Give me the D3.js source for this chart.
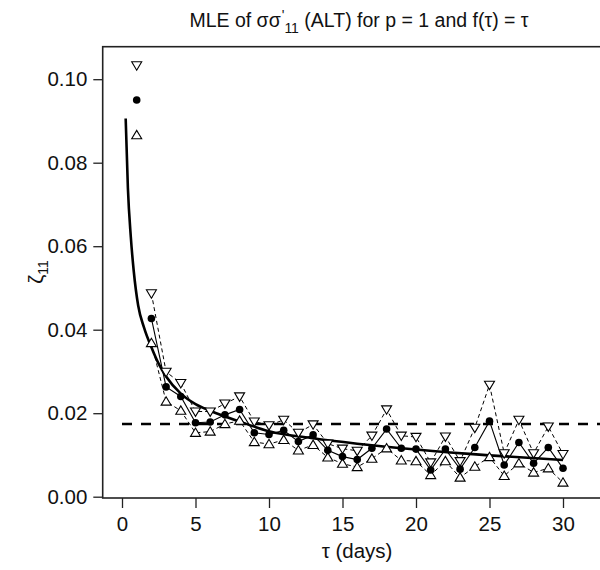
<!DOCTYPE html>
<html>
<head>
<meta charset="utf-8">
<script src="https://cdn.jsdelivr.net/npm/d3@7"></script>
<style>
  body { margin: 0; background: #fff; }
  svg { font-family: 'Liberation Sans', Arial, sans-serif; }
</style>
</head>
<body>
<div id="chart"></div>
<script>
// lag in days
const tau = [1, 2, 3, 4, 5, 6, 7, 8, 9, 10, 11, 12, 13, 14, 15,
             16, 17, 18, 19, 20, 21, 22, 23, 24, 25, 26, 27, 28, 29, 30]

// point estimate and the two band limits
const est   = [0.0950, 0.0427, 0.0263, 0.0240, 0.0177, 0.0179, 0.0196, 0.0209, 0.0153, 0.0149,
               0.0159, 0.0132, 0.0148, 0.0111, 0.0096, 0.0089, 0.0116, 0.0162, 0.0116, 0.0114,
               0.0064, 0.0114, 0.0066, 0.0118, 0.0181, 0.0076, 0.0130, 0.0080, 0.0118, 0.0068]
const upper = [0.1033, 0.0487, 0.0299, 0.0272, 0.0204, 0.0204, 0.0223, 0.0240, 0.0180, 0.0171,
               0.0184, 0.0153, 0.0173, 0.0127, 0.0115, 0.0110, 0.0146, 0.0209, 0.0146, 0.0143,
               0.0082, 0.0144, 0.0085, 0.0165, 0.0268, 0.0104, 0.0184, 0.0104, 0.0168, 0.0102]
const lower = [0.0866, 0.0368, 0.0228, 0.0206, 0.0153, 0.0156, 0.0174, 0.0182, 0.0131, 0.0126,
               0.0136, 0.0111, 0.0124, 0.0094, 0.0079, 0.0071, 0.0091, 0.0116, 0.0087, 0.0085,
               0.0052, 0.0085, 0.0046, 0.0072, 0.0095, 0.0050, 0.0080, 0.0058, 0.0068, 0.0034]

// fitted curve
const fitTau = [0.25, 0.4, 0.6, 0.8, 1.1, 1.5, 2, 2.5, 3, 4, 5, 6, 8, 10, 13, 16, 20, 25, 30]
const fitVal = [0.0906, 0.0740, 0.0622, 0.0540, 0.0458, 0.0405, 0.0358, 0.0318, 0.0288, 0.0247,
                0.0222, 0.0206, 0.0180, 0.0157, 0.0140, 0.0127, 0.0113, 0.0099, 0.0088]

const constLevel = 0.0174
const constTau = [0, 36]

const xTicks = [0, 5, 10, 15, 20, 25, 30]
const yTicks = [0, 0.02, 0.04, 0.06, 0.08, 0.10]

const width = 600, height = 570
const frame = {left: 102.7, top: 46.7, right: 612, bottom: 498}
const font = "'Liberation Sans', Arial, sans-serif"

const svg = d3.select('#chart').append('svg')
  .attr('width', width)
  .attr('height', height)

const x = d3.scaleLinear().domain([0, 30]).range([122, 563])
const y = d3.scaleLinear().domain([0, 0.1]).range([496.7, 79.2])

// frame
svg.append('rect')
  .attr('x', frame.left).attr('y', frame.top)
  .attr('width', frame.right - frame.left).attr('height', frame.bottom - frame.top)
  .attr('fill', 'none').attr('stroke', '#222').attr('stroke-width', 1.6)

// axes
const xAxis = svg.append('g')
  .attr('transform', 'translate(0,' + frame.bottom + ')')
  .call(d3.axisBottom(x).tickValues(xTicks).tickFormat(d3.format('d')).tickSize(10).tickPadding(8))
xAxis.select('.domain').remove()

const yAxis = svg.append('g')
  .attr('transform', 'translate(' + frame.left + ',0)')
  .call(d3.axisLeft(y).tickValues(yTicks).tickFormat(d3.format('.2f')).tickSize(9.4).tickPadding(6))
yAxis.select('.domain').remove()

svg.selectAll('.tick line').attr('stroke', '#222').attr('stroke-width', 1.3)
svg.selectAll('.tick text')
  .attr('font-family', font)
  .attr('font-size', 20.5).attr('fill', '#111')

// constant level
svg.append('line')
  .attr('x1', x(constTau[0])).attr('x2', x(constTau[1]))
  .attr('y1', y(constLevel)).attr('y2', y(constLevel))
  .attr('stroke', '#000').attr('stroke-width', 2.6)
  .attr('stroke-dasharray', '10,9')

// fitted curve
const fit = fitTau.map((t, i) => ({t: t, v: fitVal[i]}))
svg.append('path')
  .datum(fit)
  .attr('fill', 'none').attr('stroke', '#000').attr('stroke-width', 2.6)
  .attr('d', d3.line().x(d => x(d.t)).y(d => y(d.v)).curve(d3.curveMonotoneX))

// series lines start at lag 2
const line = d3.line().x(d => x(d.t)).y(d => y(d.v))
function series(vals) {
  return tau.map((t, i) => ({t: t, v: vals[i]}))
}

svg.append('path').datum(series(upper).slice(1))
  .attr('fill', 'none').attr('stroke', '#000').attr('stroke-width', 1)
  .attr('stroke-dasharray', '4,3').attr('d', line)
svg.append('path').datum(series(lower).slice(1))
  .attr('fill', 'none').attr('stroke', '#000').attr('stroke-width', 1)
  .attr('stroke-dasharray', '4,3').attr('d', line)
svg.append('path').datum(series(est).slice(1))
  .attr('fill', 'none').attr('stroke', '#000').attr('stroke-width', 1.1)
  .attr('d', line)

// markers
const triDown = 'M-5,-3.6L5,-3.6L0,4.8Z'
const triUp = 'M-5,3.6L5,3.6L0,-4.8Z'

svg.append('g').selectAll('path')
  .data(series(upper)).join('path')
  .attr('transform', d => 'translate(' + x(d.t) + ',' + y(d.v) + ')')
  .attr('d', triDown).attr('fill', '#fff').attr('stroke', '#000').attr('stroke-width', 1.1)

svg.append('g').selectAll('path')
  .data(series(lower)).join('path')
  .attr('transform', d => 'translate(' + x(d.t) + ',' + y(d.v) + ')')
  .attr('d', triUp).attr('fill', '#fff').attr('stroke', '#000').attr('stroke-width', 1.1)

svg.append('g').selectAll('circle')
  .data(series(est)).join('circle')
  .attr('cx', d => x(d.t)).attr('cy', d => y(d.v)).attr('r', 3.8)
  .attr('fill', '#000')

// title
const title = svg.append('text')
  .attr('x', 359).attr('y', 27)
  .attr('text-anchor', 'middle')
  .attr('font-family', font)
  .attr('font-size', 19.5).attr('fill', '#111')
title.append('tspan').text('MLE of \u03c3\u03c3')
title.append('tspan').attr('font-size', 14).attr('dx', 1).attr('dy', -7).text("'")
title.append('tspan').attr('font-size', 14).attr('dy', 13).text('11')
title.append('tspan').attr('dy', -6).text(' (ALT) for p = 1 and f(\u03c4) = \u03c4')

// axis titles
svg.append('text')
  .attr('x', 357).attr('y', 558)
  .attr('text-anchor', 'middle')
  .attr('font-family', font)
  .attr('font-size', 20.5).attr('fill', '#111')
  .text('\u03c4 (days)')

const ylab = svg.append('text')
  .attr('transform', 'translate(43,272) rotate(-90)')
  .attr('text-anchor', 'middle')
  .attr('font-family', font)
  .attr('font-size', 20.5).attr('fill', '#111')
ylab.append('tspan').text('\u03b6')
ylab.append('tspan').attr('font-size', 14).attr('dy', 5).text('11')
</script>
</body>
</html>
